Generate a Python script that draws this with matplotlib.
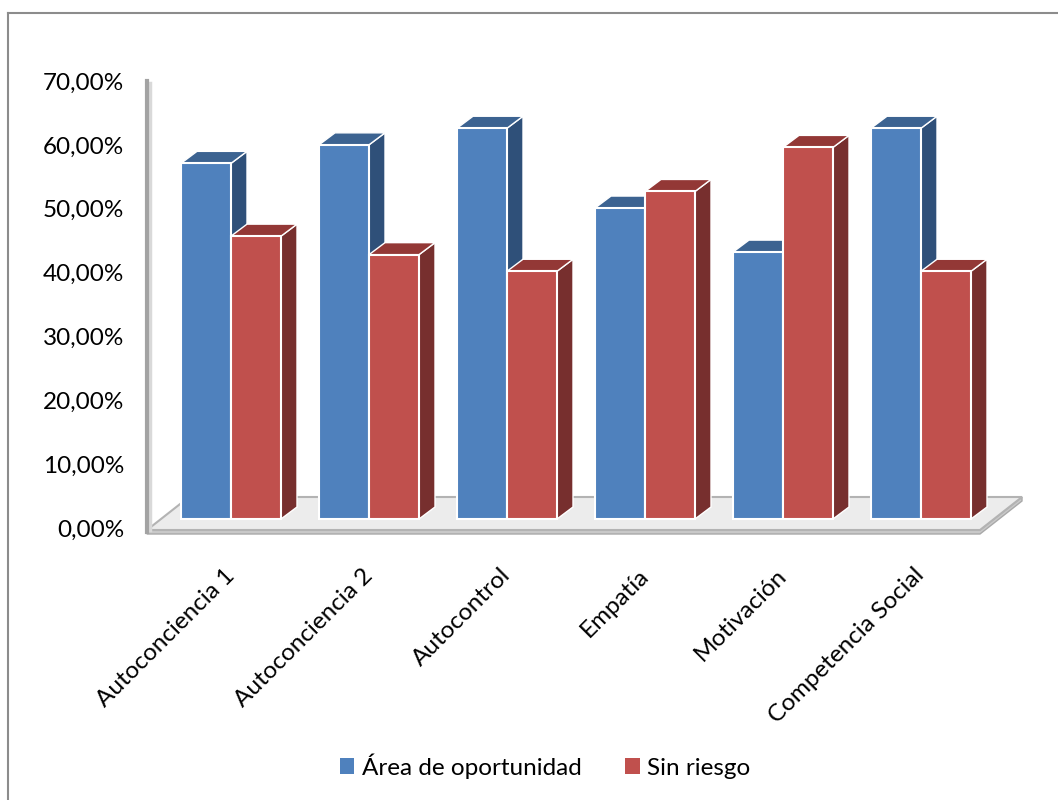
import matplotlib
matplotlib.use("Agg")
import matplotlib.pyplot as plt
from matplotlib.patches import Polygon, Patch
from matplotlib.lines import Line2D

# ---- data -------------------------------------------------------------
categories = ["Autoconciencia 1", "Autoconciencia 2", "Autocontrol",
              "Empatía", "Motivación", "Competencia Social"]
area_oportunidad = [55.7, 58.6, 61.2, 48.7, 41.8, 61.2]
sin_riesgo = [44.3, 41.4, 38.8, 51.3, 58.2, 38.8]
series_names = ["Área de oportunidad", "Sin riesgo"]
tick_values = [0, 10, 20, 30, 40, 50, 60, 70]

# ---- styling ----------------------------------------------------------
plt.rcParams["font.family"] = ["Lato", "DejaVu Sans"]
FS = 17.5
colors = {
    "blue": {"front": "#4F81BD", "top": "#3C6391", "side": "#2F5079"},
    "red": {"front": "#C0504D", "top": "#933836", "side": "#772F2E"},
}

W, H = 1058, 800
fig = plt.figure(figsize=(W / 100, H / 100), dpi=100)
ax = fig.add_axes([0, 0, 1, 1])
ax.set_axis_off()

# data units: one category per x unit, percent on y
PX_X = 138.0      # pixels per category
PX_Y = 6.385      # pixels per percent
X0, Y0 = 231.0, 519.0
ax.set_xlim(-X0 / PX_X, (W - X0) / PX_X)
ax.set_ylim((Y0 - H) / PX_Y, Y0 / PX_Y)

bar_w = 50 / PX_X
ddx, ddy = 16 / PX_X, 12 / PX_Y          # bar depth offset
front_y = -11 / PX_Y                      # front edge of floor
fdx, fdy = 42 / PX_X, 33 / PX_Y           # floor depth
floor_l, floor_r = (147 - X0) / PX_X, (980 - X0) / PX_X
thick = 4 / PX_Y

# floor slab
ax.add_patch(Polygon([(floor_l, front_y - thick), (floor_r, front_y - thick),
                      (floor_r + fdx, front_y + fdy - thick), (floor_r + fdx, front_y + fdy),
                      (floor_r, front_y), (floor_l, front_y)],
                     closed=True, fc="#c9c9c9", ec="#a9a9a9", lw=1.0, zorder=1))
ax.add_patch(Polygon([(floor_l, front_y), (floor_r, front_y),
                      (floor_r + fdx, front_y + fdy), (floor_l + fdx, front_y + fdy)],
                     closed=True, fc="#ececec", ec="#b3b3b3", lw=1.5, zorder=2))

# value axis line
ax.add_line(Line2D([floor_l + 2.5 / PX_X] * 2, [front_y, 70 + front_y], color="#d9d9d9", lw=2.5, zorder=2))
ax.add_line(Line2D([floor_l] * 2, [front_y - thick / 2, 70 + front_y + 0.3], color="#a3a3a3", lw=3, zorder=3))

# value tick labels
for v in tick_values:
    ax.text((124 - X0) / PX_X, v + front_y, f"{v},00%",
            ha="right", va="center", fontsize=FS, color="#000000")


def draw_bar(xc, val, pal, z):
    xl, xr = xc - bar_w / 2, xc + bar_w / 2
    side = [(xr, 0), (xr + ddx, ddy), (xr + ddx, val + ddy), (xr, val)]
    top = [(xl, val), (xl + ddx, val + ddy), (xr + ddx, val + ddy), (xr, val)]
    front = [(xl, 0), (xr, 0), (xr, val), (xl, val)]
    ax.add_patch(Polygon(side, closed=True, fc=pal["side"], ec="white", lw=1.0, zorder=z))
    ax.add_patch(Polygon(top, closed=True, fc=pal["top"], ec="white", lw=1.0, zorder=z))
    ax.add_patch(Polygon(front, closed=True, fc=pal["front"], ec="white", lw=1.5, zorder=z + 0.1))


z = 5
for i, (a, b) in enumerate(zip(area_oportunidad, sin_riesgo)):
    draw_bar(i - bar_w / 2, a, colors["blue"], z)
    z += 1
    draw_bar(i + bar_w / 2, b, colors["red"], z)
    z += 1

# category labels
for i, name in enumerate(categories):
    ax.text(i, (Y0 - 572) / PX_Y, name, rotation=45, rotation_mode="anchor",
            ha="right", va="center", fontsize=FS, color="#000000")

# legend
handles = [Patch(fc=colors["blue"]["front"], ec="none"),
           Patch(fc=colors["red"]["front"], ec="none")]
fig.legend(handles, series_names, loc="center", bbox_to_anchor=(545 / W, 1 - 766 / H),
           ncol=2, frameon=False, fontsize=FS, handlelength=0.6, handleheight=0.6,
           handletextpad=0.3, columnspacing=1.8)

# outer frame
fig.add_artist(Line2D([8 / W, 8 / W], [0, 1 - 13 / H], color="#8c8c8c", lw=1.5))
fig.add_artist(Line2D([8 / W, 1], [1 - 13 / H, 1 - 13 / H], color="#8c8c8c", lw=1.5))

fig.savefig("out.png", dpi=100)
